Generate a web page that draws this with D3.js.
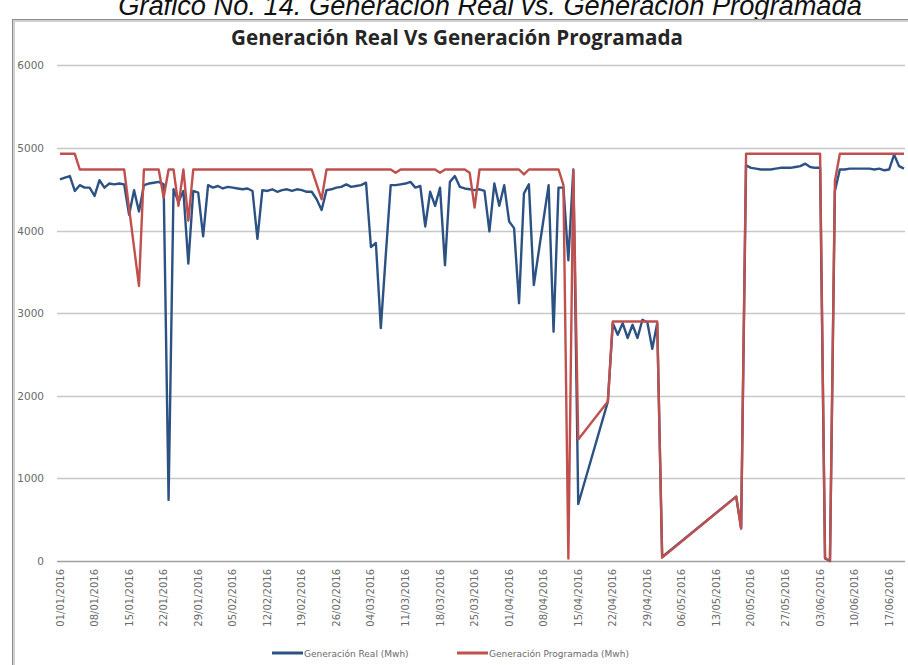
<!DOCTYPE html>
<html>
<head>
<meta charset="utf-8">
<script src="https://cdn.jsdelivr.net/npm/d3@7"></script>
<style>
  body { margin: 0; background: #fff; }
  svg { display: block; }
</style>
</head>
<body>
<div id="vis"></div>
<script>
// daily values from 01/01/2016, null = day missing in the source (line is joined over it)
var startDay = "01/01/2016";
var endDay = "20/06/2016";

var realMwh = [
  4620,4640,4660,4480,4550,4520,4520,4420,4610,4520,
  4570,4560,4570,4560,4190,4490,4230,4550,4570,4580,
  4590,4560,740,4500,4350,4480,3600,4480,4460,3930,
  4550,4520,4540,4510,4530,4520,4510,4500,4510,4480,
  3900,4490,4480,4500,4470,4490,4500,4480,4500,4490,
  4470,4470,4380,4250,4490,4500,4520,4530,4560,4530,
  4540,4550,4580,3800,3850,2820,3700,4550,4550,4560,
  4570,4590,4520,4540,4050,4470,4300,4520,3580,4590,
  4660,4530,4510,4500,4490,4500,4480,3990,4570,4300,
  4550,4110,4030,3120,4450,4560,3340,3750,4150,4550,
  2775,4520,4520,3640,4740,690,null,null,null,null,
  null,1930,2880,2740,2880,2700,2860,2700,2920,2890,
  2570,2880,50,null,null,null,null,null,null,null,
  null,null,null,null,null,null,null,780,400,4790,
  4760,4750,4740,4740,4740,4750,4760,4760,4760,4770,
  4780,4810,4770,4760,4760,30,0,4480,4740,4740,
  4750,4750,4750,4750,4750,4740,4750,4730,4740,4920,
  4780,4750
];

var progMwh = [
  4930,4930,4930,4930,4740,4740,4740,4740,4740,4740,
  4740,4740,4740,4740,4270,3800,3330,4740,4740,4740,
  4740,4400,4740,4740,4300,4740,4120,4740,4740,4740,
  4740,4740,4740,4740,4740,4740,4740,4740,4740,4740,
  4740,4740,4740,4740,4740,4740,4740,4740,4740,4740,
  4740,4740,4560,4380,4740,4740,4740,4740,4740,4740,
  4740,4740,4740,4740,4740,4740,4740,4740,4700,4740,
  4740,4740,4740,4740,4740,4740,4740,4700,4740,4740,
  4740,4740,4740,4700,4280,4740,4740,4740,4740,4740,
  4740,4740,4740,4740,4680,4740,4740,4740,4740,4740,
  4740,4740,4550,30,4730,1470,null,null,null,null,
  null,1930,2900,2900,2900,2900,2900,2900,2900,2900,
  2900,2900,40,null,null,null,null,null,null,null,
  null,null,null,null,null,null,null,780,390,4930,
  4930,4930,4930,4930,4930,4930,4930,4930,4930,4930,
  4930,4930,4930,4930,4930,40,0,4600,4930,4930,
  4930,4930,4930,4930,4930,4930,4930,4930,4930,4930,
  4930,4930
];

var yTicks = [0, 1000, 2000, 3000, 4000, 5000, 6000];

var xTickLabels = [
  "01/01/2016","08/01/2016","15/01/2016","22/01/2016","29/01/2016",
  "05/02/2016","12/02/2016","19/02/2016","26/02/2016","04/03/2016",
  "11/03/2016","18/03/2016","25/03/2016","01/04/2016","08/04/2016",
  "15/04/2016","22/04/2016","29/04/2016","06/05/2016","13/05/2016",
  "20/05/2016","27/05/2016","03/06/2016","10/06/2016","17/06/2016"
];

var seriesNames = ["Generación Real (Mwh)", "Generación Programada (Mwh)"];
var seriesColors = ["#2c5284", "#c0504d"];

var parseDay = d3.timeParse("%d/%m/%Y");
var t0 = parseDay(startDay);

function toPoints(values) {
  var pts = [];
  values.forEach(function(v, i) {
    if (v !== null) pts.push({date: d3.timeDay.offset(t0, i), value: v});
  });
  return pts;
}

var width = 908, height = 665;

var svg = d3.select("#vis").append("svg")
    .attr("width", width)
    .attr("height", height);

// caption above the chart (its top is cut by the page edge, as in the source)
var caption = svg.append("text")
    .attr("x", 490)
    .attr("y", 15)
    .attr("text-anchor", "middle")
    .attr("font-family", "Liberation Sans, Arial, sans-serif")
    .attr("font-style", "italic")
    .attr("font-size", 26)
    .attr("fill", "#111")
    .text("Gráfico No. 14. Generación Real vs. Generación Programada");
var capW = caption.node().getComputedTextLength();
caption.attr("font-size", 26 * 744 / capW);

// chart frame
svg.append("rect")
    .attr("x", 13.5).attr("y", 20.5)
    .attr("width", 920).attr("height", 680)
    .attr("fill", "none")
    .attr("stroke", "#d0d0d0")
    .attr("stroke-width", 3);
svg.append("rect")
    .attr("x", 12.5).attr("y", 19.5)
    .attr("width", 920).attr("height", 680)
    .attr("fill", "none")
    .attr("stroke", "#8c8c8c")
    .attr("stroke-width", 1);

// title
var title = svg.append("text")
    .attr("x", 457)
    .attr("y", 45)
    .attr("text-anchor", "middle")
    .attr("font-family", "Open Sans, sans-serif")
    .attr("font-weight", "bold")
    .attr("font-size", 19)
    .attr("fill", "#262626")
    .text("Generación Real Vs Generación Programada");
var tW = title.node().getComputedTextLength();
title.attr("font-size", 19 * 452 / tW);

// scales
var x = d3.scaleTime()
    .domain([t0, parseDay(endDay)])
    .range([60, 904]);

var y = d3.scaleLinear()
    .domain([0, 6000])
    .range([561, 65.4]);

var plotLeft = 57, plotRight = 905;

// gridlines
svg.append("g")
  .selectAll("line")
  .data(yTicks)
  .enter().append("line")
    .attr("x1", plotLeft)
    .attr("x2", plotRight)
    .attr("y1", function(d) { return Math.round(y(d)) + 0.5; })
    .attr("y2", function(d) { return Math.round(y(d)) + 0.5; })
    .attr("stroke", function(d) { return d === 0 ? "#a0a0a0" : "#c8c8c8"; })
    .attr("stroke-width", 1.3);

// y axis labels
svg.append("g")
  .selectAll("text")
  .data(yTicks)
  .enter().append("text")
    .attr("x", 44)
    .attr("y", function(d) { return y(d) + 4; })
    .attr("text-anchor", "end")
    .attr("font-family", "DejaVu Sans, sans-serif")
    .attr("font-size", 10.5)
    .attr("fill", "#6a6a6a")
    .text(function(d) { return d; });

// x axis labels, rotated
svg.append("g")
  .selectAll("text")
  .data(xTickLabels)
  .enter().append("text")
    .attr("transform", function(d) {
      return "translate(" + (x(parseDay(d)) + 3.5) + ",569) rotate(-90)";
    })
    .attr("text-anchor", "end")
    .attr("font-family", "DejaVu Sans, sans-serif")
    .attr("font-size", 10)
    .attr("fill", "#6a6a6a")
    .text(function(d) { return d; });

// lines, programmed drawn over real
var line = d3.line()
    .x(function(d) { return x(d.date); })
    .y(function(d) { return y(d.value); });

[realMwh, progMwh].forEach(function(values, i) {
  svg.append("path")
      .datum(toPoints(values))
      .attr("fill", "none")
      .attr("stroke", seriesColors[i])
      .attr("stroke-width", 2.4)
      .attr("stroke-linejoin", "round")
      .attr("d", line);
});

// legend
var legendX = [272, 457];
var legend = svg.append("g");
seriesNames.forEach(function(name, i) {
  legend.append("line")
      .attr("x1", legendX[i]).attr("x2", legendX[i] + 31)
      .attr("y1", 653).attr("y2", 653)
      .attr("stroke", seriesColors[i])
      .attr("stroke-width", 3);
  legend.append("text")
      .attr("x", legendX[i] + 32)
      .attr("y", 656.5)
      .attr("font-family", "DejaVu Sans, sans-serif")
      .attr("font-size", 9)
      .attr("fill", "#6a6a6a")
      .text(name);
});
</script>
</body>
</html>
